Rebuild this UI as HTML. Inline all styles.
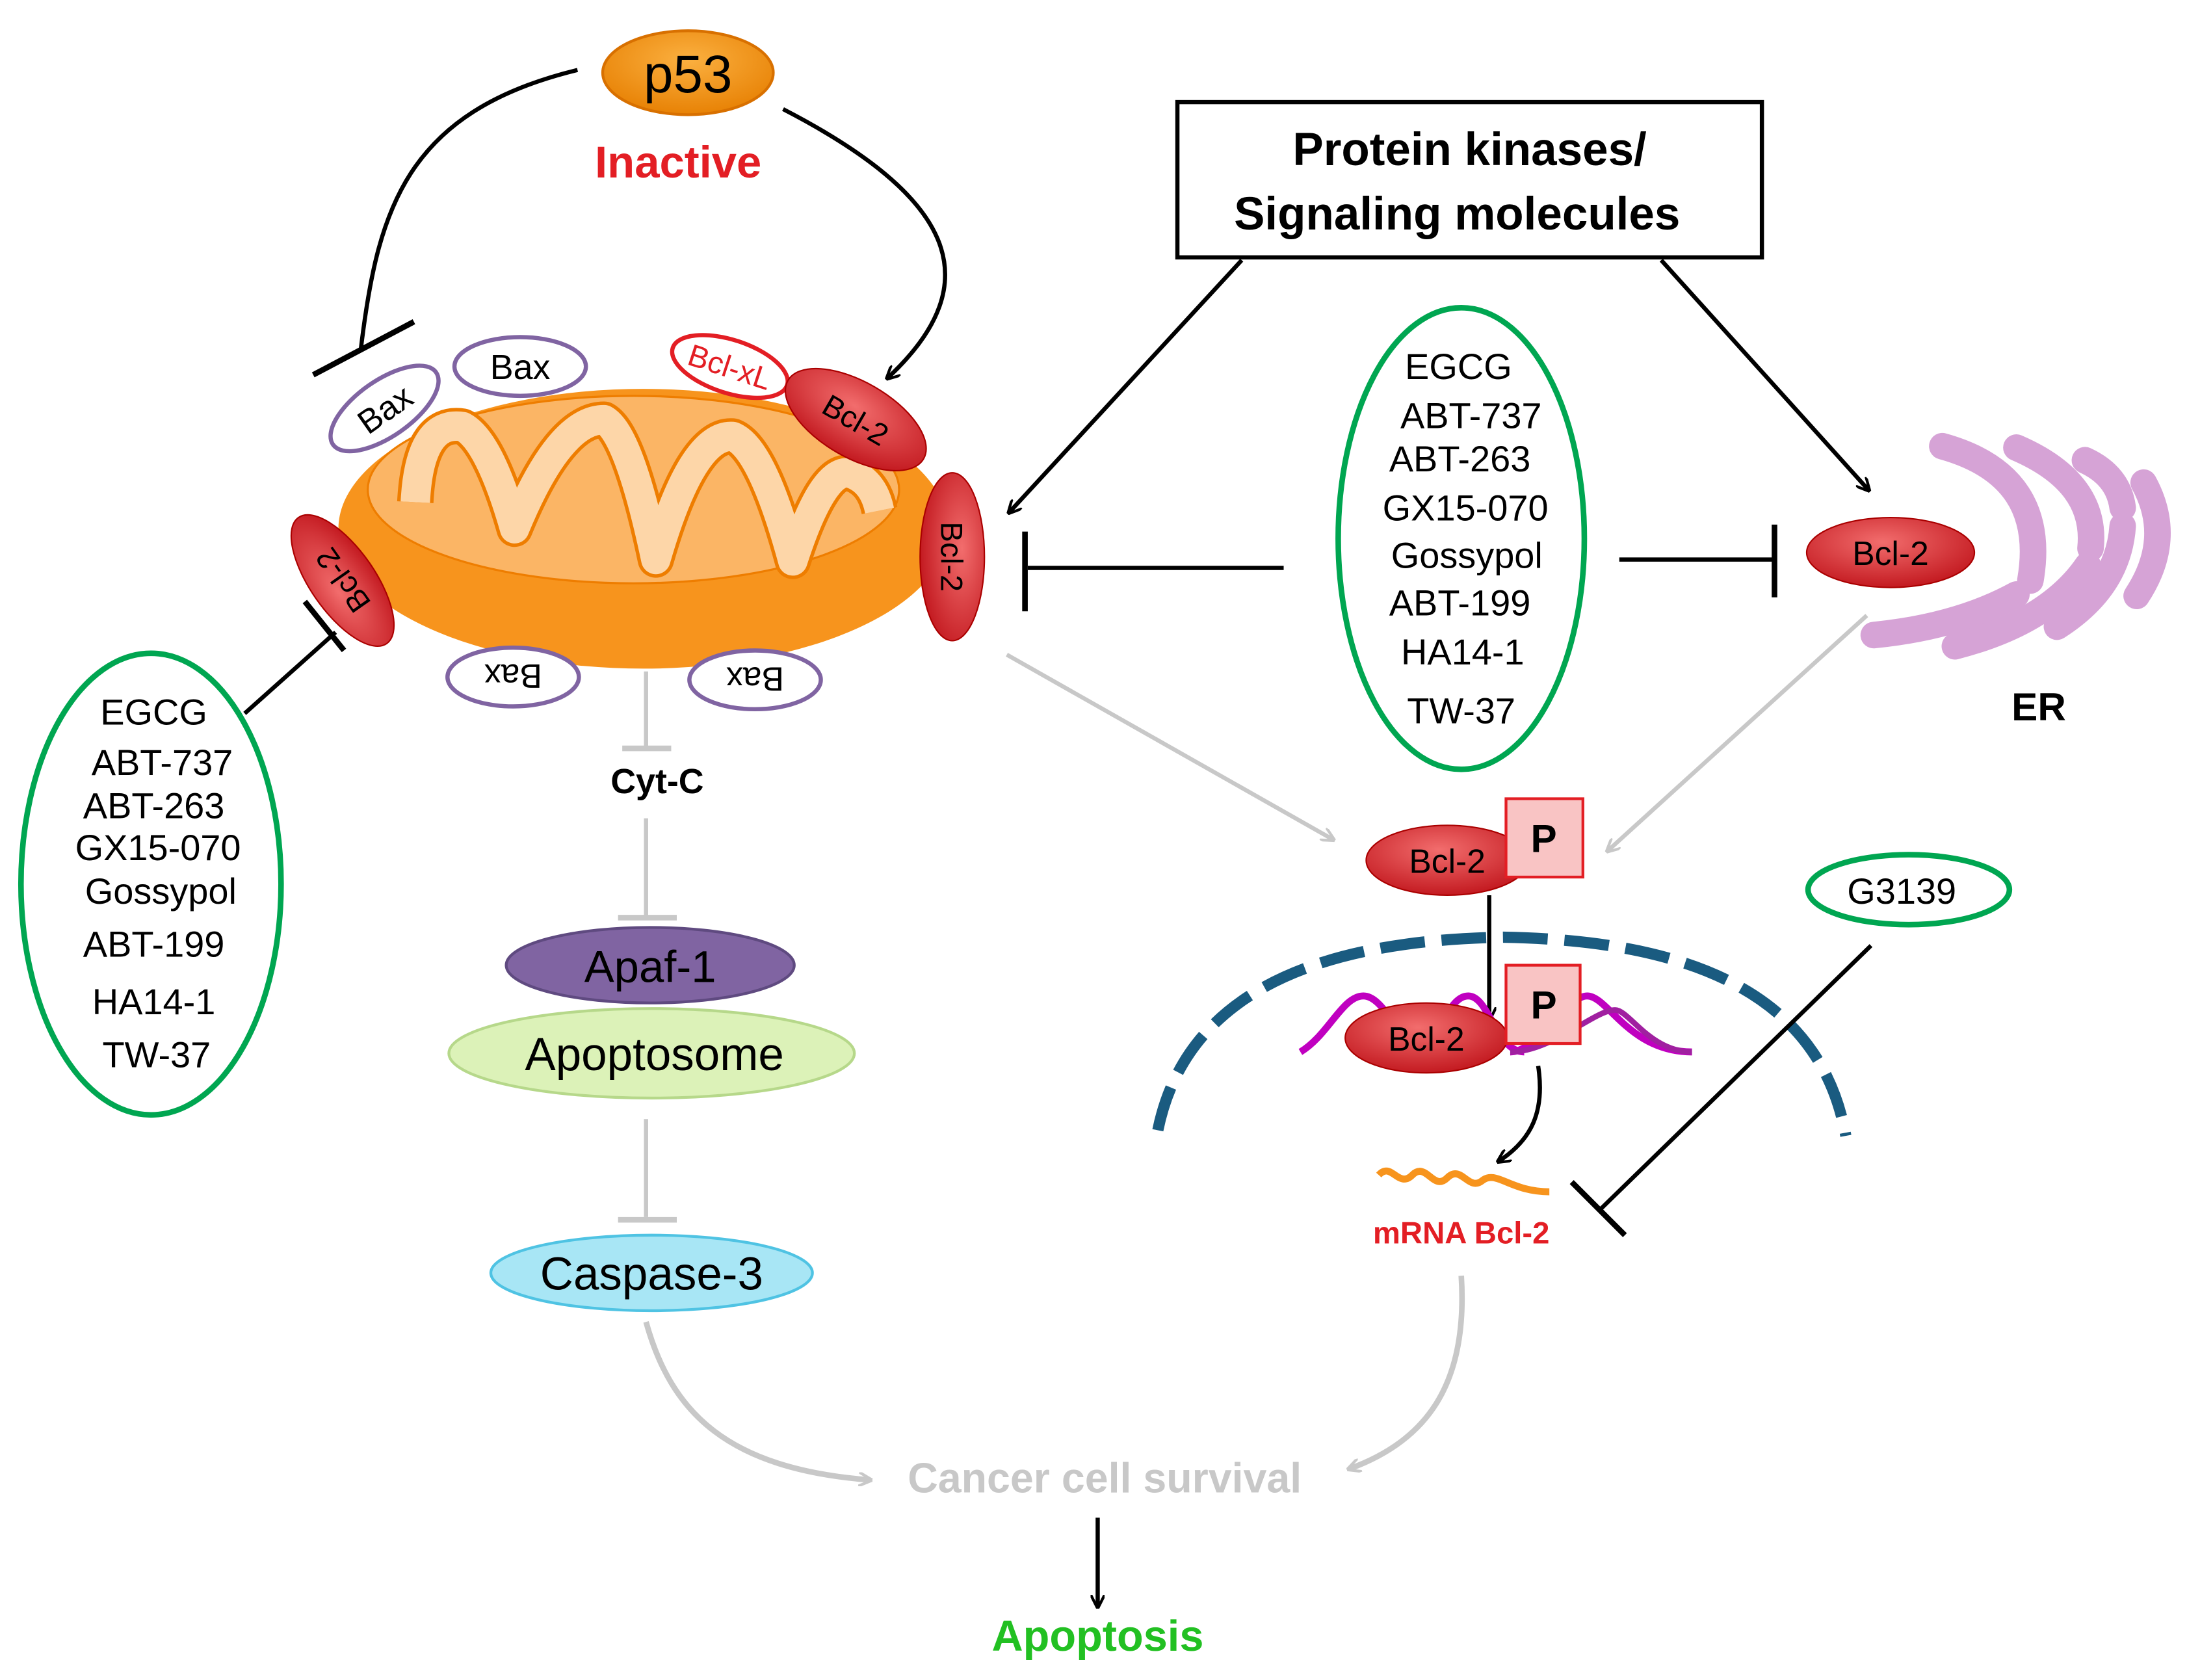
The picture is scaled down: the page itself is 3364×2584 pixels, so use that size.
<!DOCTYPE html>
<html><head><meta charset="utf-8"><style>
html,body{margin:0;padding:0;background:#fff;}
svg{display:block;}
text{font-family:"Liberation Sans",sans-serif;}
</style></head><body>
<svg width="3364" height="2584" viewBox="0 0 1564 1201" preserveAspectRatio="none" xmlns="http://www.w3.org/2000/svg">
<defs>
<radialGradient id="og" cx="50%" cy="35%" r="70%"><stop offset="0" stop-color="#fbb040"/><stop offset="1" stop-color="#e67e00"/></radialGradient>
<radialGradient id="rg" cx="45%" cy="35%" r="70%"><stop offset="0" stop-color="#f26d6d"/><stop offset="1" stop-color="#c0141b"/></radialGradient>
<marker id="ab" markerWidth="10" markerHeight="10" refX="8" refY="5" orient="auto" markerUnits="userSpaceOnUse" viewBox="0 0 10 10"><path d="M0,0 L10,5 L0,10" fill="none" stroke="#000" stroke-width="2"/></marker>
<marker id="ag" markerWidth="10" markerHeight="10" refX="8" refY="5" orient="auto" markerUnits="userSpaceOnUse" viewBox="0 0 10 10"><path d="M0,0 L10,5 L0,10" fill="none" stroke="#c8c8c8" stroke-width="2"/></marker>
</defs>
<rect width="1564" height="1201" fill="#fff"/>

<!-- p53 -->
<ellipse cx="492" cy="52" rx="61" ry="30" fill="url(#og)" stroke="#d87000" stroke-width="2"/>
<text x="492" y="66" font-size="38" text-anchor="middle">p53</text>
<text x="485" y="127" font-size="32" font-weight="bold" fill="#e31e24" text-anchor="middle">Inactive</text>
<path d="M413,50 C290,80 270,150 258,250" fill="none" stroke="#000" stroke-width="3"/>
<line x1="224" y1="268" x2="296" y2="230" stroke="#000" stroke-width="4"/>
<path d="M560,78 C680,140 710,200 635,270" fill="none" stroke="#000" stroke-width="3" marker-end="url(#ab)"/>

<!-- Mitochondria -->
<ellipse cx="460" cy="378" rx="218" ry="100" fill="#f7941d"/>
<ellipse cx="453" cy="350" rx="190" ry="67" fill="#fbb565" stroke="#ee7d00" stroke-width="1.5"/>
<path d="M297,359 Q300,300 331,305 Q350,315 368,378 Q400,300 432,300 Q450,310 469,400 Q495,310 524,312 Q545,320 567,401 Q590,330 610,339 Q625,345 629,365" fill="none" stroke="#ee7d00" stroke-width="26" stroke-linejoin="round"/>
<path d="M297,359 Q300,300 331,305 Q350,315 368,378 Q400,300 432,300 Q450,310 469,400 Q495,310 524,312 Q545,320 567,401 Q590,330 610,339 Q625,345 629,365" fill="none" stroke="#fdd6a8" stroke-width="21" stroke-linejoin="round"/>

<!-- Bax -->
<g transform="rotate(-35 275 292)"><ellipse cx="275" cy="292" rx="45" ry="20" fill="#fff" stroke="#8064a2" stroke-width="3"/><text x="275" y="301" font-size="24" text-anchor="middle">Bax</text></g>
<ellipse cx="372" cy="262" rx="47" ry="21" fill="#fff" stroke="#8064a2" stroke-width="3"/><text x="372" y="271" font-size="25" text-anchor="middle">Bax</text>
<g transform="rotate(180 367 484)"><ellipse cx="367" cy="484" rx="47" ry="21" fill="#fff" stroke="#8064a2" stroke-width="3"/><text x="367" y="493" font-size="24" text-anchor="middle">Bax</text></g>
<g transform="rotate(180 540 486)"><ellipse cx="540" cy="486" rx="47" ry="21" fill="#fff" stroke="#8064a2" stroke-width="3"/><text x="540" y="495" font-size="24" text-anchor="middle">Bax</text></g>

<!-- Bcl-xL and Bcl-2 on mito -->
<g transform="rotate(18 522 262)"><ellipse cx="522" cy="262" rx="43" ry="19" fill="#fff" stroke="#e31e24" stroke-width="3"/><text x="522" y="270" font-size="22" fill="#e31e24" text-anchor="middle">Bcl-xL</text></g>
<g transform="rotate(30 612 300)"><ellipse cx="612" cy="300" rx="56" ry="27" fill="url(#rg)" stroke="#a00" stroke-width="1"/><text x="612" y="308" font-size="22" text-anchor="middle">Bcl-2</text></g>
<g transform="rotate(90 681 398)"><ellipse cx="681" cy="398" rx="60" ry="23" fill="url(#rg)" stroke="#a00" stroke-width="1"/><text x="681" y="406" font-size="22" text-anchor="middle">Bcl-2</text></g>
<g transform="rotate(235 245 415)"><ellipse cx="245" cy="415" rx="55" ry="23" fill="url(#rg)" stroke="#a00" stroke-width="1"/><text x="245" y="423" font-size="22" text-anchor="middle">Bcl-2</text></g>

<!-- Left green ellipse -->
<ellipse cx="108" cy="632" rx="93" ry="165" fill="none" stroke="#00a651" stroke-width="4"/>
<g font-size="26" text-anchor="middle">
<text x="110" y="518">EGCG</text><text x="116" y="554">ABT-737</text><text x="110" y="585">ABT-263</text>
<text x="113" y="615">GX15-070</text><text x="115" y="646">Gossypol</text><text x="110" y="684">ABT-199</text>
<text x="110" y="725">HA14-1</text><text x="112" y="763">TW-37</text></g>
<line x1="175" y1="510" x2="240" y2="452" stroke="#000" stroke-width="3"/>
<line x1="218" y1="430" x2="246" y2="465" stroke="#000" stroke-width="4"/>

<!-- Cyt-C pathway -->
<line x1="462" y1="480" x2="462" y2="535" stroke="#c8c8c8" stroke-width="3"/><line x1="445" y1="535" x2="480" y2="535" stroke="#c8c8c8" stroke-width="4"/>
<text x="470" y="567" font-size="25" font-weight="bold" text-anchor="middle">Cyt-C</text>
<line x1="462" y1="585" x2="462" y2="655" stroke="#c8c8c8" stroke-width="3"/><line x1="442" y1="656" x2="484" y2="656" stroke="#c8c8c8" stroke-width="4"/>
<ellipse cx="465" cy="690" rx="103" ry="27" fill="#8064a2" stroke="#5f4a80" stroke-width="2"/>
<text x="465" y="702" font-size="32" text-anchor="middle">Apaf-1</text>
<ellipse cx="466" cy="753" rx="145" ry="32" fill="#dcf2b8" stroke="#b6d88a" stroke-width="2"/>
<text x="468" y="765" font-size="33" text-anchor="middle">Apoptosome</text>
<line x1="462" y1="800" x2="462" y2="870" stroke="#c8c8c8" stroke-width="3"/><line x1="442" y1="872" x2="484" y2="872" stroke="#c8c8c8" stroke-width="4"/>
<ellipse cx="466" cy="910" rx="115" ry="27" fill="#a8e6f5" stroke="#4fc3e3" stroke-width="2"/>
<text x="466" y="922" font-size="33" text-anchor="middle">Caspase-3</text>

<!-- Box -->
<rect x="842" y="73" width="418" height="111" fill="#fff" stroke="#000" stroke-width="3"/>
<text x="1051" y="118" font-size="33" font-weight="bold" text-anchor="middle">Protein kinases/</text>
<text x="1042" y="164" font-size="33" font-weight="bold" text-anchor="middle">Signaling molecules</text>
<line x1="888" y1="186" x2="722" y2="366" stroke="#000" stroke-width="3" marker-end="url(#ab)"/>
<line x1="1188" y1="186" x2="1336" y2="350" stroke="#000" stroke-width="3" marker-end="url(#ab)"/>

<!-- Middle ellipse -->
<ellipse cx="1045" cy="385" rx="88" ry="165" fill="none" stroke="#00a651" stroke-width="4"/>
<g font-size="26" text-anchor="middle">
<text x="1043" y="271">EGCG</text><text x="1052" y="306">ABT-737</text><text x="1044" y="337">ABT-263</text>
<text x="1048" y="372">GX15-070</text><text x="1049" y="406">Gossypol</text><text x="1044" y="440">ABT-199</text>
<text x="1046" y="475">HA14-1</text><text x="1045" y="517">TW-37</text></g>
<line x1="918" y1="406" x2="735" y2="406" stroke="#000" stroke-width="3"/>
<line x1="733" y1="380" x2="733" y2="437" stroke="#000" stroke-width="4"/>
<line x1="1158" y1="400" x2="1268" y2="400" stroke="#000" stroke-width="3"/>
<line x1="1269" y1="375" x2="1269" y2="427" stroke="#000" stroke-width="4"/>

<!-- ER -->
<g fill="none" stroke="#d6a3d6" stroke-linecap="round" stroke-width="19">
<path d="M1389,319 Q1465,340 1452,415"/>
<path d="M1442,320 Q1500,345 1495,392"/>
<path d="M1491,329 Q1515,340 1518,363"/>
<path d="M1533,345 Q1555,385 1528,426"/>
<path d="M1340,454 Q1400,448 1442,425"/>
<path d="M1398,462 Q1465,445 1493,404"/>
<path d="M1471,448 Q1515,420 1518,376"/>
</g>
<ellipse cx="1352" cy="395" rx="60" ry="25" fill="url(#rg)" stroke="#a00" stroke-width="1"/>
<text x="1352" y="404" font-size="24" text-anchor="middle">Bcl-2</text>
<text x="1458" y="515" font-size="28" font-weight="bold" text-anchor="middle">ER</text>

<!-- gray arrows to P-Bcl2 -->
<line x1="720" y1="468" x2="953" y2="600" stroke="#c8c8c8" stroke-width="3" marker-end="url(#ag)"/>
<line x1="1335" y1="440" x2="1150" y2="608" stroke="#c8c8c8" stroke-width="3" marker-end="url(#ag)"/>

<!-- Bcl-2 P top -->
<ellipse cx="1035" cy="615" rx="58" ry="25" fill="url(#rg)" stroke="#a00" stroke-width="1"/>
<text x="1035" y="624" font-size="24" text-anchor="middle">Bcl-2</text>
<rect x="1077" y="571" width="55" height="56" fill="#f9c4c4" stroke="#e31e24" stroke-width="2"/>
<text x="1104" y="609" font-size="28" font-weight="bold" text-anchor="middle">P</text>
<line x1="1065" y1="640" x2="1065" y2="728" stroke="#000" stroke-width="3" marker-end="url(#ab)"/>

<!-- Nucleus -->
<path d="M828,808 C850,700 960,672 1075,670 C1190,672 1300,700 1320,812" fill="none" stroke="#1a5b80" stroke-width="8" stroke-dasharray="32,12"/>
<!-- DNA -->
<g fill="none" stroke="#c000c0" stroke-width="5">
<path d="M930,752 C950,740 960,712 975,712 C990,712 1000,745 1015,745 C1030,745 1035,712 1050,712 C1065,712 1070,752 1090,752"/>
<path d="M1080,752 C1100,752 1120,712 1135,712 C1150,712 1165,752 1210,752"/>
<path d="M1080,752 C1110,752 1140,722 1155,722 C1165,722 1180,752 1210,752" stroke="#a020a0" stroke-width="4"/>
</g>
<ellipse cx="1020" cy="742" rx="58" ry="25" fill="url(#rg)" stroke="#a00" stroke-width="1"/>
<text x="1020" y="751" font-size="24" text-anchor="middle">Bcl-2</text>
<rect x="1077" y="690" width="53" height="56" fill="#f9c4c4" stroke="#e31e24" stroke-width="2"/>
<text x="1104" y="728" font-size="28" font-weight="bold" text-anchor="middle">P</text>
<path d="M1100,762 C1105,795 1095,815 1072,830" fill="none" stroke="#000" stroke-width="3" marker-end="url(#ab)"/>

<!-- mRNA -->
<path d="M986,840 C995,830 1000,850 1010,840 C1020,830 1025,852 1035,842 C1045,832 1050,852 1060,844 C1070,836 1080,852 1108,852" fill="none" stroke="#f7941d" stroke-width="5"/>
<text x="1045" y="889" font-size="22" font-weight="bold" fill="#e31e24" text-anchor="middle">mRNA Bcl-2</text>

<!-- G3139 -->
<ellipse cx="1365" cy="636" rx="72" ry="25" fill="none" stroke="#00a651" stroke-width="4"/>
<text x="1360" y="646" font-size="26" text-anchor="middle">G3139</text>
<line x1="1338" y1="676" x2="1145" y2="864" stroke="#000" stroke-width="3"/>
<line x1="1124" y1="845" x2="1162" y2="883" stroke="#000" stroke-width="4"/>

<!-- to cancer cell survival -->
<path d="M462,945 C480,1010 520,1050 622,1058" fill="none" stroke="#c8c8c8" stroke-width="4" marker-end="url(#ag)"/>
<path d="M1045,912 C1050,990 1020,1030 965,1050" fill="none" stroke="#c8c8c8" stroke-width="4" marker-end="url(#ag)"/>
<text x="790" y="1067" font-size="30" font-weight="bold" fill="#c8c8c8" text-anchor="middle">Cancer cell survival</text>
<line x1="785" y1="1085" x2="785" y2="1148" stroke="#000" stroke-width="3" marker-end="url(#ab)"/>
<text x="785" y="1180" font-size="31" font-weight="bold" fill="#22c022" text-anchor="middle">Apoptosis</text>
</svg>
</body></html>
